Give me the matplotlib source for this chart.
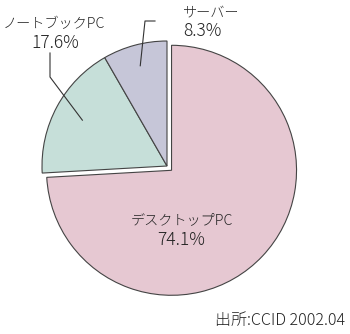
import numpy as np
import matplotlib.pyplot as plt

plt.rcParams['font.family'] = ['Noto Sans CJK JP', 'DejaVu Sans']

# data
labels = ["デスクトップPC", "ノートブックPC", "サーバー"]
shares = [74.1, 17.6, 8.3]
colors = ["#e6c8d2", "#c6dfd9", "#c6c6d8"]
explode = [0.05, 0, 0]
source = "出所:CCID 2002.04"

W, H = 350, 334
fig = plt.figure(figsize=(3.5, 3.34), dpi=100)
ax = fig.add_axes([0, 0, 1, 1])
ax.set_aspect('equal')
ax.axis('off')

cx, cy, R = 167, 168, 125
# pie's explode is in data units, so scale by the radius
wedges, _ = ax.pie(shares, colors=colors, explode=[e * R for e in explode],
                   startangle=90, counterclock=False, center=(cx, cy), radius=R,
                   wedgeprops=dict(edgecolor='#444444', linewidth=0.8))
ax.set_xlim(0, W)
ax.set_ylim(0, H)

fj, fn = 10.2, 12.5
tc = '#222222'
# desktop label inside the slice
ax.text(182, H - 220, labels[0], ha='center', va='center', fontsize=fj, color=tc, fontweight='light')
ax.text(181, H - 240, f"{shares[0]}%", ha='center', va='center', fontsize=fn, color=tc, fontweight='light')

# notebook label with leader line
w = wedges[1]
mid = np.deg2rad((w.theta1 + w.theta2) / 2)
px, py = cx + 0.77 * R * np.cos(mid), cy + 0.77 * R * np.sin(mid)
ax.plot([px, 50, 50], [py, H - 77, H - 53], color='#333333', lw=0.8)
ax.text(54, H - 24, labels[1], ha='center', va='center', fontsize=fj, color=tc, fontweight='light')
ax.text(55, H - 43, f"{shares[1]}%", ha='center', va='center', fontsize=fn, color=tc, fontweight='light')

# server label with leader line
w = wedges[2]
mid = np.deg2rad((w.theta1 + w.theta2) / 2)
px, py = cx + 0.83 * R * np.cos(mid), cy + 0.83 * R * np.sin(mid)
ax.plot([px, 145, 155], [py, H - 21, H - 21], color='#333333', lw=0.8)
ax.text(183, H - 12, labels[2], ha='left', va='center', fontsize=fj, color=tc, fontweight='light')
ax.text(183, H - 31, f"{shares[2]}%", ha='left', va='center', fontsize=fn, color=tc, fontweight='light')

ax.text(345, H - 320, source, ha='right', va='center', fontsize=11.5, color=tc, fontweight='light')

fig.savefig("out.png", dpi=100)
